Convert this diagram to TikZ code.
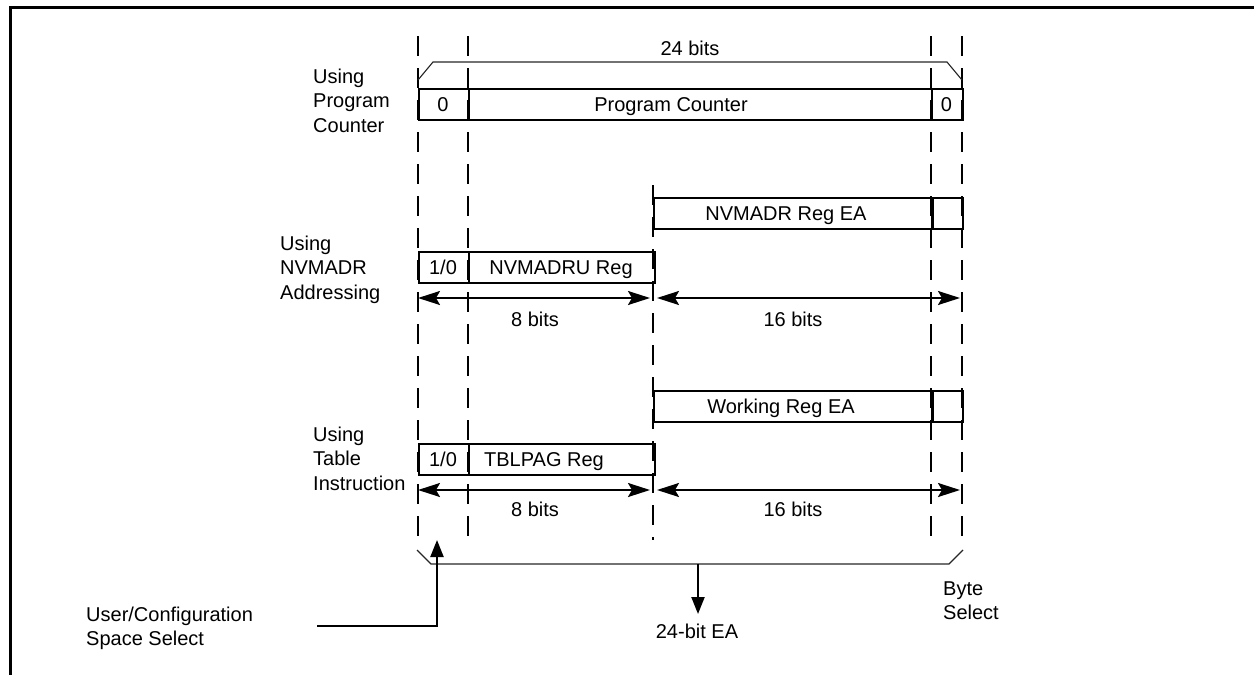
\documentclass[tikz,border=0pt]{standalone}
\usepackage{fontspec}
\setmainfont{Liberation Sans}
\usetikzlibrary{arrows.meta}
\begin{document}
\begin{tikzpicture}[x=1pt,y=-1pt,
  cell/.style={draw,line width=2pt,inner sep=0pt,minimum height=31pt,anchor=north west},
  lbl/.style={font=\fontsize{20}{24.5}\selectfont,inner sep=0pt,anchor=base},
  lbll/.style={lbl,anchor=base west},
  guide/.style={line width=2.2pt,dash pattern=on 20pt off 12pt},
  brace/.style={line width=1.1pt,black!85},
  frame/.style={line width=3pt},
  dimarrow/.style={line width=2pt,{Stealth[length=22pt,width=14pt,inset=4pt]}-{Stealth[length=22pt,width=14pt,inset=4pt]}},
  feed/.style={line width=2.2pt,-{Triangle[length=17pt,width=13pt]}}
]
\useasboundingbox (0,0) rectangle (1254,675);
% frame
\coordinate (fr1) at (1254,7);
\coordinate (fr2) at (10,7);
\coordinate (fr3) at (10,675);
\draw[frame] (fr1) -- (fr2) -- (fr3);

% guide coordinates
\coordinate (gA1) at (418,36); \coordinate (gA2) at (418,545);
\coordinate (gB1) at (468,36); \coordinate (gB2) at (468,545);
\coordinate (gC1) at (931,36); \coordinate (gC2) at (931,545);
\coordinate (gD1) at (962,36); \coordinate (gD2) at (962,545);
\coordinate (gM1) at (653,185); \coordinate (gM2) at (653,540);
\draw[guide] (gA1) -- (gA2);
\draw[guide] (gB1) -- (gB2);
\draw[guide] (gC1) -- (gC2);
\draw[guide] (gD1) -- (gD2);
\draw[guide] (gM1) -- (gM2);

% top brace
\node[lbl] (bits24) at (690,55) {24 bits};
\coordinate (tb1) at (418,80); \coordinate (tb2) at (433,62);
\coordinate (tb3) at (947,62); \coordinate (tb4) at (962,80);
\draw[brace] (tb1) -- (tb2) -- (tb3) -- (tb4);

% program counter row
\node[cell,minimum width=50pt] (pc0) at (418,88) {};
\node[cell,minimum width=463pt] (pcm) at (468,88) {};
\node[cell,minimum width=31pt] (pc1) at (931,88) {};
\node[lbl] (pc0t) at (443,111) {0};
\node[lbl] (pcmt) at (671,111) {Program Counter};
\node[lbl] (pc1t) at (946.5,111) {0};
\node[lbll] (u1a) at (313,83) {Using};
\node[lbll] (u1b) at (313,107.5) {Program};
\node[lbll] (u1c) at (313,132) {Counter};

% NVMADR rows
\node[cell,minimum width=279pt] (nva) at (653,197) {};
\node[cell,minimum width=31pt] (nvb) at (931,197) {};
\node[lbl] (nvat) at (786,220) {NVMADR Reg EA};
\node[cell,minimum width=50pt] (nu0) at (418,251) {};
\node[cell,minimum width=186pt] (nu1) at (468,251) {};
\node[lbl] (nu0t) at (443,274) {1/0};
\node[lbl] (nu1t) at (561,274) {NVMADRU Reg};
\node[lbll] (u2a) at (280,250) {Using};
\node[lbll] (u2b) at (280,274.5) {NVMADR};
\node[lbll] (u2c) at (280,299) {Addressing};
\coordinate (a1l) at (418,298); \coordinate (a1m) at (650,298);
\coordinate (a1n) at (657,298); \coordinate (a1r) at (960,298);
\draw[dimarrow] (a1l) -- (a1m);
\draw[dimarrow] (a1n) -- (a1r);
\node[lbl] (b8a) at (535,326) {8 bits};
\node[lbl] (b16a) at (793,326) {16 bits};

% Table rows
\node[cell,minimum width=279pt] (wra) at (653,390) {};
\node[cell,minimum width=31pt] (wrb) at (931,390) {};
\node[lbl] (wrat) at (781,413) {Working Reg EA};
\node[cell,minimum width=50pt] (tp0) at (418,443) {};
\node[cell,minimum width=186pt] (tp1) at (468,443) {};
\node[lbl] (tp0t) at (443,466) {1/0};
\node[lbl] (tp1t) at (544,466) {TBLPAG Reg};
\node[lbll] (u3a) at (313,441) {Using};
\node[lbll] (u3b) at (313,465.5) {Table};
\node[lbll] (u3c) at (313,490) {Instruction};
\coordinate (a2l) at (418,490); \coordinate (a2m) at (650,490);
\coordinate (a2n) at (657,490); \coordinate (a2r) at (960,490);
\draw[dimarrow] (a2l) -- (a2m);
\draw[dimarrow] (a2n) -- (a2r);
\node[lbl] (b8b) at (535,516) {8 bits};
\node[lbl] (b16b) at (793,516) {16 bits};

% bottom brace
\coordinate (bb1) at (417,550); \coordinate (bb2) at (431,564);
\coordinate (bb3) at (949,564); \coordinate (bb4) at (963,550);
\draw[brace] (bb1) -- (bb2) -- (bb3) -- (bb4);
\coordinate (ea0) at (698,564);
\node[lbl] (ea) at (697,638) {24-bit EA};
\coordinate (eatip) at (698,614);
\draw[feed] (ea0) -- (eatip);
\node[lbll] (bs1) at (943,595) {Byte};
\node[lbll] (bs2) at (943,619.5) {Select};

% user/config select
\node[lbll] (uc1) at (86,621) {User/Configuration};
\node[lbll] (uc2) at (86,645.5) {Space Select};
\coordinate (uc0) at (317,626);
\coordinate (ucb) at (437,626);
\coordinate (uctip) at (437,540);
\draw[feed] (uc0) -- (ucb) -- (uctip);
\end{tikzpicture}
\end{document}
